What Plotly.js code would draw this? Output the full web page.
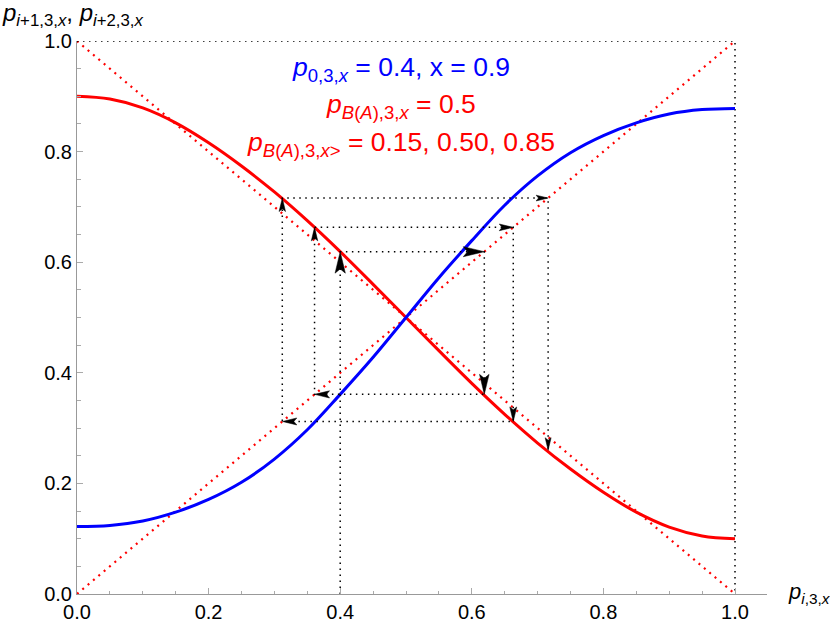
<!DOCTYPE html>
<html>
<head>
<meta charset="utf-8">
<script src="https://cdn.plot.ly/plotly-3.0.1.min.js"></script>
<style>
  body { margin: 0; background: #fff; }
  #chart { width: 830px; height: 624px; }
</style>
</head>
<body>
<div id="chart"></div>
<script>
// curves
const pGrid  = [0, 0.05, 0.1, 0.15, 0.2, 0.25, 0.3, 0.35, 0.4, 0.45, 0.5,
                0.55, 0.6, 0.65, 0.7, 0.75, 0.8, 0.85, 0.9, 0.95, 1];
const pNext  = [0.900, 0.895, 0.879, 0.852, 0.816, 0.774, 0.727, 0.675, 0.619, 0.560, 0.500,
                0.440, 0.381, 0.325, 0.273, 0.226, 0.184, 0.148, 0.121, 0.105, 0.100];
const pNext2 = [0.122, 0.124, 0.132, 0.148, 0.171, 0.202, 0.244, 0.297, 0.361, 0.428, 0.500,
                0.572, 0.639, 0.703, 0.756, 0.798, 0.829, 0.852, 0.868, 0.876, 0.878];

// cobweb iterates starting at p0 = 0.4
const orbit = [0.4, 0.619, 0.361, 0.663, 0.312, 0.716, 0.26];
const fixedPoints = [0.15, 0.50, 0.85];
const p0 = 0.4, xParam = 0.9, pBA = 0.5;

// arrow head length (px) per cobweb segment
const arrowLen = [21.5, 21, 20, 15, 13.5, 14, 14.5, 14.5, 13.5, 12, 12.5];

const FONT = 'Liberation Sans, Arial, sans-serif';
const M = { l: 77, r: 63, t: 41, b: 30 };
const plotW = 830 - M.l - M.r, plotH = 624 - M.t - M.b;
const xMax = plotW / 658;       // axis runs a bit past 1.0
const sx = plotW / xMax, sy = plotH;

// cobweb path
const webX = [orbit[0]], webY = [0];
for (let k = 0; k < orbit.length - 1; k++) {
    webX.push(orbit[k]);     webY.push(orbit[k + 1]);
    if (k < orbit.length - 2) { webX.push(orbit[k + 1]); webY.push(orbit[k + 1]); }
}

// arrow heads at the end of each segment, shaped in pixel space
const headX = [], headY = [];
for (let i = 1; i < webX.length; i++) {
    const x1 = webX[i - 1], y1 = webY[i - 1], x2 = webX[i], y2 = webY[i];
    let dx = (x2 - x1) * sx, dy = (y2 - y1) * sy;
    const len = Math.hypot(dx, dy);
    dx /= len; dy /= len;
    const L = arrowLen[i - 1], w = 0.24 * L, notch = 0.2 * L;
    const nx = -dy, ny = dx;
    const pts = [
        [0, 0],
        [-L * dx + w * nx, -L * dy + w * ny],
        [-(L - notch) * dx, -(L - notch) * dy],
        [-L * dx - w * nx, -L * dy - w * ny],
        [0, 0]
    ];
    pts.forEach(p => { headX.push(x2 + p[0] / sx); headY.push(y2 + p[1] / sy); });
    headX.push(null); headY.push(null);
}

const traces = [
    { x: [0, 1], y: [1, 0], mode: 'lines', line: { color: '#ff0000', width: 2.2, dash: '2px,5px' } },
    { x: [0, 1], y: [0, 1], mode: 'lines', line: { color: '#ff0000', width: 2.2, dash: '2px,5px' } },
    { x: [0, 1, 1], y: [1, 1, 0], mode: 'lines', line: { color: '#000', width: 1.5, dash: '1.5px,4.5px' } },
    { x: pGrid, y: pNext, mode: 'lines', line: { color: '#ff0000', width: 3, shape: 'spline', smoothing: 1 } },
    { x: pGrid, y: pNext2, mode: 'lines', line: { color: '#0000ff', width: 3, shape: 'spline', smoothing: 1 } },
    { x: webX, y: webY, mode: 'lines', line: { color: '#000', width: 1.5, dash: '1.5px,4.5px' } },
    { x: headX, y: headY, mode: 'lines', fill: 'toself', fillcolor: '#000',
      line: { color: '#000', width: 0.5 } }
];

const sub = s => '<sub>' + s + '</sub>';
const it = s => '<i>' + s + '</i>';
const labelFont = c => ({ family: FONT, size: 26.5, color: c });

const layout = {
    width: 830, height: 624,
    margin: M,
    showlegend: false,
    paper_bgcolor: '#fff', plot_bgcolor: '#fff',
    font: { family: FONT, size: 20, color: '#000' },
    xaxis: {
        range: [0, xMax], dtick: 0.2, tick0: 0, tickformat: '.1f',
        showline: true, linecolor: '#999', linewidth: 1,
        ticks: 'inside', ticklen: 6, tickcolor: '#aaa', tickwidth: 1,
        minor: { dtick: 0.05, ticks: 'inside', ticklen: 3.5, tickcolor: '#aaa', showgrid: false },
        showgrid: false, zeroline: false, automargin: false, fixedrange: true
    },
    yaxis: {
        range: [0, 1], dtick: 0.2, tick0: 0, tickformat: '.1f',
        showline: true, linecolor: '#999', linewidth: 1,
        ticks: 'inside', ticklen: 6, tickcolor: '#aaa', tickwidth: 1,
        minor: { dtick: 0.05, ticks: 'inside', ticklen: 3.5, tickcolor: '#aaa', showgrid: false },
        showgrid: false, zeroline: false, automargin: false, fixedrange: true
    },
    annotations: [
        { xref: 'paper', yref: 'paper', x: 0, y: 1, xshift: -77, yshift: 27,
          xanchor: 'left', yanchor: 'middle', showarrow: false,
          text: it('p') + sub(it('i') + '+1,3,' + it('x')) + ', ' + it('p') + sub(it('i') + '+2,3,' + it('x')),
          font: { family: FONT, size: 24, color: '#000' } },
        { xref: 'paper', yref: 'paper', x: 1, y: 0, xshift: 19, yshift: 1,
          xanchor: 'left', yanchor: 'middle', showarrow: false,
          text: it('p') + sub(it('i') + ',3,' + it('x')),
          font: { family: FONT, size: 22, color: '#000' } },
        { xref: 'x', yref: 'y', x: 0.493, y: 0.950, showarrow: false,
          text: it('p') + sub('0,3,' + it('x')) + ' = ' + p0 + ', x = ' + xParam,
          font: labelFont('#0000ff') },
        { xref: 'x', yref: 'y', x: 0.493, y: 0.882, showarrow: false,
          text: it('p') + sub(it('B') + '(' + it('A') + '),3,' + it('x')) + ' = ' + pBA,
          font: labelFont('#ff0000') },
        { xref: 'x', yref: 'y', x: 0.493, y: 0.814, showarrow: false,
          text: it('p') + sub(it('B') + '(' + it('A') + '),3,' + it('x') + '&gt;') + ' = ' +
                fixedPoints.map(v => v.toFixed(2)).join(', '),
          font: labelFont('#ff0000') }
    ]
};

Plotly.newPlot('chart', traces, layout, { staticPlot: true });
</script>
</body>
</html>
